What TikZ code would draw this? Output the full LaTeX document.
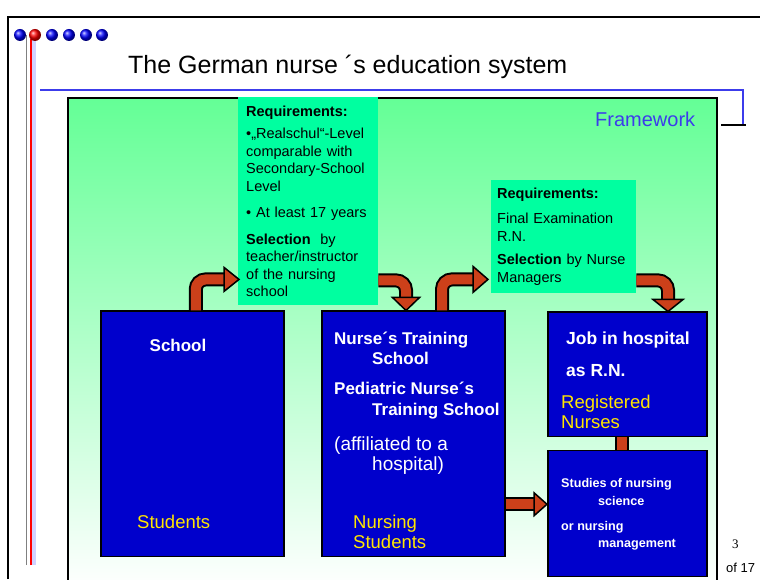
\documentclass[tikz,border=0pt]{standalone}
\usepackage{fontspec}
\setmainfont{Liberation Sans}
\newfontfamily\numfont{Liberation Serif}
\usetikzlibrary{calc}

\definecolor{mint}{RGB}{100,255,150}
\definecolor{req}{RGB}{0,255,160}
\definecolor{navy}{RGB}{0,0,204}
\definecolor{rust}{RGB}{204,64,26}
\definecolor{gold}{RGB}{255,230,0}
\definecolor{rule}{RGB}{60,60,235}

\begin{document}
\begin{tikzpicture}[x=1pt, y=1pt,
        box/.style={rectangle, draw=black, line width=1.5pt, fill=navy, anchor=south west, inner sep=0pt},
        reqbox/.style={rectangle, fill=req, anchor=north west, align=left, inner xsep=8pt, inner ysep=0pt, font=\fontsize{14.5}{17.5}\selectfont},
        boldtxt/.style={anchor=base west, text=white, inner sep=0pt, font=\bfseries\fontsize{17}{19}\selectfont},
        bigtxt/.style={anchor=base west, text=white, inner sep=0pt, font=\bfseries\fontsize{17.5}{20}\selectfont},
        regtxt/.style={anchor=base west, text=white, inner sep=0pt, font=\fontsize{19}{20}\selectfont},
        goldtxt/.style={anchor=base west, text=gold, inner sep=0pt, font=\fontsize{18.5}{20}\selectfont},
        smalltxt/.style={anchor=base west, text=white, inner sep=0pt, font=\bfseries\fontsize{12.6}{15}\selectfont},
        shaft/.style={draw=rust, line width=10pt, rounded corners=10pt, preaction={draw=black, line width=14pt}},
        head/.style={fill=rust, draw=black, line width=1.5pt, line join=miter},
    ]
    \useasboundingbox (0,0) rectangle (760,579);

    % slide decoration
    \draw[line width=2.5pt] (8,0) -- (8,562) -- (760,562);
    \draw[blue!18, line width=6pt] (33,14) -- (33,540);
    \draw[gray, line width=1pt] (26.5,14) -- (26.5,544);
    \draw[red, line width=2.5pt] (31,14) -- (31,540);
    \foreach \x in {20,52,69,86,102}
        \shade[ball color=blue] (\x,544) circle (6pt);
    \shade[ball color=red] (35,544) circle (6pt);

    \node[anchor=base west, inner sep=0pt, font=\fontsize{25}{28}\selectfont] (title) at (128,505) {The German nurse ´s education system};
    \draw[rule, line width=2pt] (40,489) -- (743,489) -- (743,454);
    \draw[line width=1.5pt] (721,454) -- (746,454);

    % framework
    \shade[top color=mint, bottom color=white] (68,-10) rectangle (717,481);
    \draw[line width=1.5pt] (68,-10) -- (68,481) -- (717,481) -- (717,-10);
    \node[anchor=base west, inner sep=0pt, text=rule, font=\fontsize{20}{22}\selectfont] (fw) at (595,452) {Framework};

    \node[reqbox, text width=124pt, minimum height=208pt] (req1) at (238,482) {\textbf{Requirements:}\\[5pt] •„Realschul“-Level\\ comparable with\\ Secondary-School\\ Level\\[9pt] • At least 17 years\\[9pt] \textbf{Selection}~ by\\ teacher/instructor\\ of the nursing\\ school};
    \node[reqbox, inner xsep=6pt, text width=133pt, minimum height=113pt] (req2) at (491,399) {\textbf{Requirements:}\\[8pt] Final Examination\\ R.N.\\[6pt] \textbf{Selection} by Nurse\\ Managers};

    \node[box, minimum width=183pt, minimum height=245pt] (school) at (100,22) {};
    \node[box, minimum width=183pt, minimum height=245pt] (nurse) at (321,22) {};
    \node[box, minimum width=159pt, minimum height=124pt] (job) at (547,142) {};
    \node[box, minimum width=159pt, minimum height=126pt] (studies) at (547,2) {};

    % arrows
    \coordinate (h1) at ($(req1.south west)+(-14,26)$);
    \coordinate (h2) at ($(nurse.north west)+(85,13)$);
    \coordinate (h3) at ($(req2.south west)+(-18,14)$);
    \coordinate (h4) at ($(job.north west)+(121,12)$);
    \coordinate (h5) at ($(studies.west)+(-13,9)$);

    \draw[shaft] ([xshift=3.5pt]school.north) |- (h1);
    \draw[shaft] ($(req1.south east)+(0,25)$) -| (h2);
    \draw[shaft] ($(nurse.north west)+(121,0)$) |- (h3);
    \draw[shaft] ($(req2.south east)+(0,13)$) -| (h4);
    \draw[shaft] (nurse.east |- h5) -- (h5);
    \draw[shaft] ([xshift=-5pt]job.south) -- ([xshift=-5pt]studies.north);

    \filldraw[head] (h1) ++(0,12) -- ++(15,-12) -- ++(-15,-12) -- cycle;
    \filldraw[head] (h2) ++(-13.5,0) -- ++(13.5,-13) -- ++(13.5,13) -- cycle;
    \filldraw[head] (h3) ++(0,13) -- ++(15,-13) -- ++(-15,-13) -- cycle;
    \filldraw[head] (h4) ++(-15,0) -- ++(15,-12) -- ++(15,12) -- cycle;
    \filldraw[head] (h5) ++(0,11.5) -- ++(13,-11.5) -- ++(-13,-11.5) -- cycle;

    % box texts
    \node[boldtxt, anchor=base] (schooltxt) at (178,228) {School};
    \node[goldtxt] (stud1) at (137,51) {Students};

    \node[boldtxt] (nts1) at (334,235) {Nurse´s Training};
    \node[boldtxt] (nts2) at (372,215) {School};
    \node[boldtxt] (pnts1) at (334,185) {Pediatric Nurse´s};
    \node[boldtxt] (pnts2) at (372,164) {Training School};
    \node[regtxt] (aff1) at (334,129) {(affiliated to a};
    \node[regtxt] (aff2) at (372,109) {hospital)};
    \node[goldtxt] (stud2) at (353,51) {Nursing};
    \node[goldtxt] (stud3) at (353,31) {Students};

    \node[bigtxt] (job1) at (566,235) {Job in hospital};
    \node[bigtxt] (job2) at (566,203) {as R.N.};
    \node[goldtxt] (rn1) at (561,171) {Registered};
    \node[goldtxt] (rn2) at (561,151) {Nurses};

    \node[smalltxt] (st1) at (561,91.5) {Studies of nursing};
    \node[smalltxt] (st2) at (598,73.5) {science};
    \node[smalltxt] (st3) at (561,48.5) {or nursing};
    \node[smalltxt] (st4) at (598,31.5) {management};

    \node[anchor=base west, inner sep=0pt, font=\numfont\fontsize{13}{15}\selectfont] (pg) at (732,31) {3};
    \node[anchor=base west, inner sep=0pt, font=\fontsize{13}{15}\selectfont] (of) at (726,7) {of 17};
\end{tikzpicture}
\end{document}
